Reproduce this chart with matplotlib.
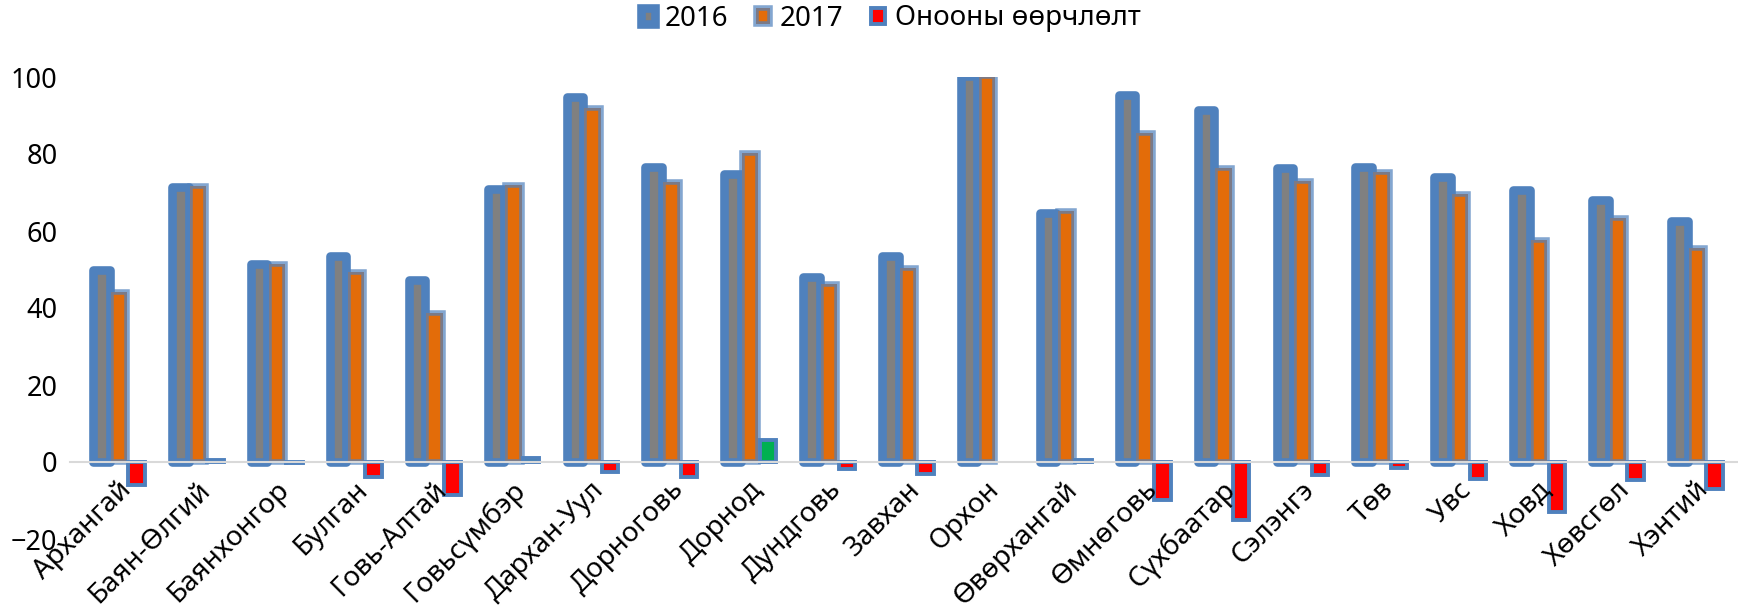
import matplotlib
matplotlib.use("Agg")
import matplotlib.pyplot as plt
import matplotlib.transforms as mtransforms
import numpy as np

plt.rcParams['font.family'] = ['Noto Sans', 'DejaVu Sans']

regions = ["Архангай", "Баян-Өлгий", "Баянхонгор", "Булган", "Говь-Алтай",
           "Говьсүмбэр", "Дархан-Уул", "Дорноговь", "Дорнод", "Дундговь",
           "Завхан", "Орхон", "Өвөрхангай", "Өмнөговь", "Сүхбаатар",
           "Сэлэнгэ", "Төв", "Увс", "Ховд", "Хөвсгөл", "Хэнтий"]
score_2016 = [50.0, 71.3, 51.5, 53.4, 47.4, 71.0, 94.7, 76.7, 74.7, 48.0, 53.6,
              100.3, 64.6, 95.4, 91.3, 76.3, 76.7, 74.0, 70.7, 68.0, 62.6]
score_2017 = [44.1, 71.8, 51.3, 49.3, 38.7, 72.0, 92.0, 72.8, 80.3, 46.3, 50.4,
              100.3, 65.3, 85.5, 76.3, 73.0, 75.2, 69.7, 57.6, 63.3, 55.6]
change = [-5.9, 0.5, -0.2, -4.0, -8.7, 1.0, -2.7, -3.9, 5.6, -1.7, -3.2,
          np.nan, 0.6, -9.9, -15.0, -3.3, -1.5, -4.3, -13.1, -4.7, -7.0]

blue = '#4F81BD'
x = np.arange(len(regions))
w = 0.209
d = 0.224

fig = plt.figure(figsize=(17.38, 6.08), dpi=100)
ax = fig.add_axes([70 / 1738, 1 - 539 / 608, 1676 / 1738, (539 - 77) / 608])

ax.bar(x - d, score_2016, w, color='#808080', edgecolor=blue, linewidth=6.2,
       joinstyle='round', label='2016')
ax.bar(x, score_2017, w, color='#E36C09', edgecolor=(0.31, 0.506, 0.741, 0.7),
       linewidth=4.0, label='2017')
chg_colors = ['#00B050' if c > 0 else '#FF0000' for c in np.nan_to_num(change)]
ax.bar(x + d, change, w, color=chg_colors, edgecolor=blue, linewidth=2.8,
       label='Онооны өөрчлөлт')

for s in ['top', 'right', 'left']:
    ax.spines[s].set_visible(False)
ax.spines['bottom'].set_position(('data', 0))
ax.spines['bottom'].set_color('#D9D9D9')
ax.spines['bottom'].set_linewidth(1.5)

ax.set_ylim(-20, 100)
ax.set_xlim(-0.622, 20.622)
ax.set_yticks(range(-20, 101, 20))
ax.set_xticks(x)
ax.set_xticklabels(regions, rotation=45, ha='right', va='center',
                   rotation_mode='anchor')
ax.tick_params(axis='y', length=0, pad=9, labelsize=19.5)
ax.tick_params(axis='x', length=0, pad=17, labelsize=20)

# labels sit a little right of the tick, as in the source chart
shift = mtransforms.ScaledTranslation(0.08, 0, fig.dpi_scale_trans)
for lab in ax.get_xticklabels():
    lab.set_transform(lab.get_transform() + shift)

handles, labels = ax.get_legend_handles_labels()
fig.legend(handles, labels, loc='center', bbox_to_anchor=(891 / 1738, 1 - 18.5 / 608),
           ncol=3, frameon=False, fontsize=20, handlelength=0.5, handleheight=0.5,
           handletextpad=0.35, columnspacing=1.0)

fig.savefig('out.png', dpi=100)
